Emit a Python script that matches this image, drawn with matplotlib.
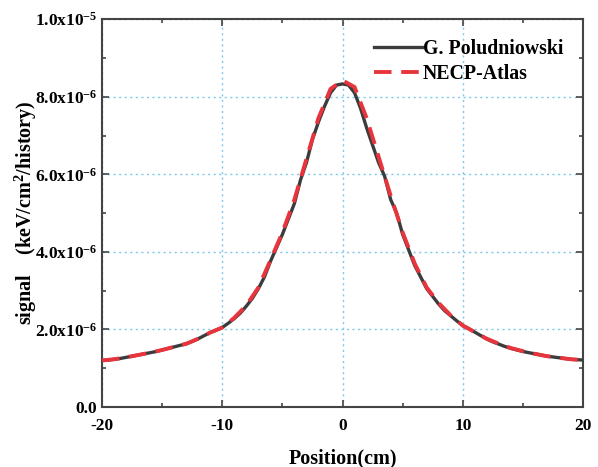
import numpy as np
import matplotlib
matplotlib.use("Agg")
import matplotlib.pyplot as plt
from matplotlib.ticker import FuncFormatter, MultipleLocator

plt.rcParams['font.family'] = ['Liberation Serif', 'DejaVu Serif']
plt.rcParams['font.weight'] = 'bold'
plt.rcParams['axes.unicode_minus'] = False
plt.rcParams['mathtext.fontset'] = 'custom'
plt.rcParams['mathtext.rm'] = 'Liberation Serif:bold'
plt.rcParams['mathtext.it'] = 'Liberation Serif:bold'
plt.rcParams['mathtext.bf'] = 'Liberation Serif:bold'
plt.rcParams['mathtext.default'] = 'rm'

# G. Poludniowski (0.5 cm bins), signal in 1e-6 keV/cm2/history
pos_pol = np.arange(-20, 20.01, 0.5)
sig_pol = [1.20, 1.21, 1.23, 1.25, 1.28, 1.31, 1.34, 1.37, 1.40, 1.43,
           1.47, 1.51, 1.55, 1.59, 1.63, 1.69, 1.76, 1.84, 1.92, 1.98,
           2.05, 2.16, 2.28, 2.42, 2.60, 2.80, 3.05, 3.35, 3.75, 4.10,
           4.45, 4.85, 5.25, 5.85, 6.30, 6.90, 7.35, 7.75, 8.10, 8.30,
           8.33,
           8.30, 8.10, 7.70, 7.20, 6.75, 6.30, 5.95, 5.35, 5.00, 4.45,
           4.05, 3.65, 3.35, 3.05, 2.85, 2.65, 2.48, 2.35, 2.22, 2.10,
           2.02, 1.93, 1.84, 1.75, 1.68, 1.62, 1.56, 1.51, 1.47, 1.43,
           1.40, 1.37, 1.34, 1.31, 1.29, 1.27, 1.25, 1.23, 1.22, 1.21]

# NECP-Atlas (1 cm)
pos_necp = np.arange(-20, 20.01, 1.0)
sig_necp = [1.20, 1.23, 1.28, 1.34, 1.40, 1.47, 1.55, 1.63, 1.76, 1.92,
            2.05, 2.30, 2.62, 3.08, 3.78, 4.50, 5.35, 6.40, 7.45, 8.20,
            8.42,
            8.25, 7.45, 6.45, 5.45, 4.50, 3.70, 3.08, 2.68, 2.36, 2.10,
            1.93, 1.76, 1.63, 1.52, 1.44, 1.37, 1.31, 1.27, 1.23, 1.21]

fig = plt.figure(figsize=(5.98, 4.67), dpi=100)
ax = fig.add_axes([0.1706, 0.1285, 0.8044, 0.8305])

ax.plot(pos_pol, np.array(sig_pol) * 1e-6, color='#3c3c3c', lw=2.4,
        label='G. Poludniowski', zorder=3)
ax.plot(pos_necp, np.array(sig_necp) * 1e-6, color='#e8343c', lw=2.8,
        dashes=(4.5, 2.5), label='NECP-Atlas', zorder=4)

ax.set_xlim(-20, 20)
ax.set_ylim(0, 1e-5)
ax.xaxis.set_major_locator(MultipleLocator(10))
ax.xaxis.set_minor_locator(MultipleLocator(5))
ax.yaxis.set_major_locator(MultipleLocator(2e-6))
ax.yaxis.set_minor_locator(MultipleLocator(1e-6))


def yfmt(v, p):
    if abs(v) < 1e-12:
        return '0.0'
    e = int(np.floor(np.log10(abs(v)) + 1e-9))
    m = v / 10 ** e
    return f'{m:.1f}x10$^{{{e}}}$'


ax.yaxis.set_major_formatter(FuncFormatter(yfmt))
ax.tick_params(which='both', direction='in', top=True, right=True,
               labelsize=12.5, width=1.2, color='#444444')
ax.tick_params(which='major', length=5)
ax.tick_params(which='minor', length=3)
ax.tick_params(axis='x', pad=8)
for s in ax.spines.values():
    s.set_linewidth(1.5)
    s.set_color('#444444')

ax.grid(True, which='major', color='#7ec8ec', linestyle=(0, (1.5, 2.5)), lw=1.0)

ax.set_xlabel('Position(cm)', fontsize=14.5, fontweight='bold', labelpad=10)
ax.set_ylabel('signal    (keV/cm$^{2}$/history)', fontsize=14.5, fontweight='bold',
              labelpad=-3)

leg = ax.legend(loc='upper right', frameon=False, fontsize=14.3, handlelength=2.4,
                handletextpad=0.05, borderaxespad=0.6, labelspacing=0.25)

fig.savefig('out.png', dpi=100)
